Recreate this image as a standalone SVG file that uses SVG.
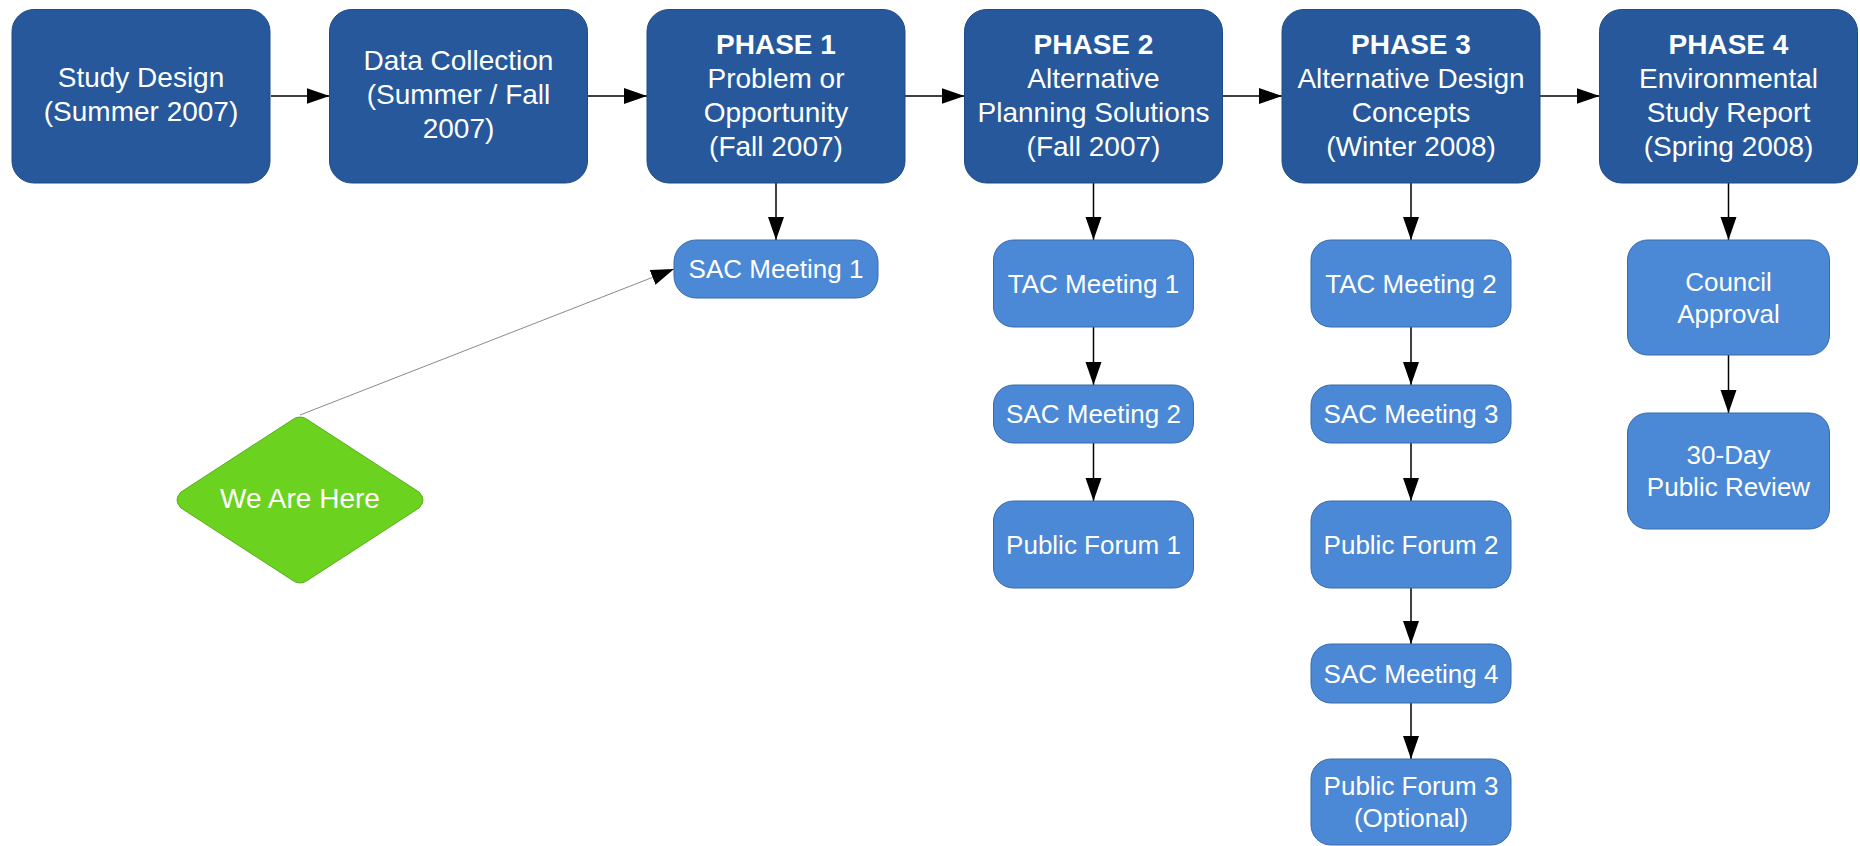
<svg xmlns="http://www.w3.org/2000/svg" width="1860" height="846" viewBox="0 0 1860 846">
<style>
.top{fill:#26589b;stroke:#1f4a85;stroke-width:1}
.sub{fill:#4b88d5;stroke:#3a6aa8;stroke-width:1}
.t{font-family:"Liberation Sans",Arial,sans-serif;fill:#fff;text-anchor:middle}
.tt{font-size:28px}
.st{font-size:26px}
.b{font-weight:bold}
.c{stroke:#000;stroke-width:1.5;fill:none;marker-end:url(#ah)}
.g{stroke:#8a8a8a;stroke-width:1;fill:none;marker-end:url(#ah)}
</style>
<defs>
<marker id="ah" markerUnits="userSpaceOnUse" markerWidth="24" markerHeight="18" refX="23" refY="8" orient="auto">
<path d="M0,0 L23,8 L0,16 z" fill="#000"/>
</marker>
</defs>
<rect width="1860" height="846" fill="#fff"/>
<g id="connectors">
<line class="c" x1="271" y1="96" x2="329.5" y2="96"/>
<line class="c" x1="588" y1="96" x2="647" y2="96"/>
<line class="c" x1="905" y1="96" x2="964.5" y2="96"/>
<line class="c" x1="1223" y1="96" x2="1282" y2="96"/>
<line class="c" x1="1540" y1="96" x2="1599.5" y2="96"/>
<line class="c" x1="776" y1="183" x2="776" y2="240"/>
<line class="c" x1="1093.5" y1="183" x2="1093.5" y2="240"/>
<line class="c" x1="1093.5" y1="327" x2="1093.5" y2="385"/>
<line class="c" x1="1093.5" y1="443" x2="1093.5" y2="501"/>
<line class="c" x1="1411" y1="183" x2="1411" y2="240"/>
<line class="c" x1="1411" y1="327" x2="1411" y2="385"/>
<line class="c" x1="1411" y1="443" x2="1411" y2="501"/>
<line class="c" x1="1411" y1="588" x2="1411" y2="644"/>
<line class="c" x1="1411" y1="703" x2="1411" y2="759"/>
<line class="c" x1="1728.5" y1="183" x2="1728.5" y2="240"/>
<line class="c" x1="1728.5" y1="355" x2="1728.5" y2="413"/>
<line class="g" x1="300" y1="415" x2="674" y2="269"/>
</g>
<g id="study-design">
<rect class="top" x="12" y="9.5" width="258" height="173.5" rx="22"/>
<text class="t tt" x="141" y="87">Study Design</text>
<text class="t tt" x="141" y="121">(Summer 2007)</text>
</g>
<g id="data-collection">
<rect class="top" x="329.5" y="9.5" width="258" height="173.5" rx="22"/>
<text class="t tt" x="458.5" y="70">Data Collection</text>
<text class="t tt" x="458.5" y="104">(Summer / Fall</text>
<text class="t tt" x="458.5" y="138">2007)</text>
</g>
<g id="phase1">
<rect class="top" x="647" y="9.5" width="258" height="173.5" rx="22"/>
<text class="t tt b" x="776" y="54">PHASE 1</text>
<text class="t tt" x="776" y="88">Problem or</text>
<text class="t tt" x="776" y="122">Opportunity</text>
<text class="t tt" x="776" y="156">(Fall 2007)</text>
</g>
<g id="phase2">
<rect class="top" x="964.5" y="9.5" width="258" height="173.5" rx="22"/>
<text class="t tt b" x="1093.5" y="54">PHASE 2</text>
<text class="t tt" x="1093.5" y="88">Alternative</text>
<text class="t tt" x="1093.5" y="122">Planning Solutions</text>
<text class="t tt" x="1093.5" y="156">(Fall 2007)</text>
</g>
<g id="phase3">
<rect class="top" x="1282" y="9.5" width="258" height="173.5" rx="22"/>
<text class="t tt b" x="1411" y="54">PHASE 3</text>
<text class="t tt" x="1411" y="88">Alternative Design</text>
<text class="t tt" x="1411" y="122">Concepts</text>
<text class="t tt" x="1411" y="156">(Winter 2008)</text>
</g>
<g id="phase4">
<rect class="top" x="1599.5" y="9.5" width="258" height="173.5" rx="22"/>
<text class="t tt b" x="1728.5" y="54">PHASE 4</text>
<text class="t tt" x="1728.5" y="88">Environmental</text>
<text class="t tt" x="1728.5" y="122">Study Report</text>
<text class="t tt" x="1728.5" y="156">(Spring 2008)</text>
</g>
<g id="sac1">
<rect class="sub" x="674" y="240" width="204" height="58" rx="22"/>
<text class="t st" x="776" y="278">SAC Meeting 1</text>
</g>
<g id="tac1">
<rect class="sub" x="993.5" y="240" width="200" height="87" rx="20"/>
<text class="t st" x="1093.5" y="292.5">TAC Meeting 1</text>
</g>
<g id="sac2">
<rect class="sub" x="993.5" y="385" width="200" height="58" rx="20"/>
<text class="t st" x="1093.5" y="423">SAC Meeting 2</text>
</g>
<g id="pf1">
<rect class="sub" x="993.5" y="501" width="200" height="87" rx="20"/>
<text class="t st" x="1093.5" y="553.5">Public Forum 1</text>
</g>
<g id="tac2">
<rect class="sub" x="1311" y="240" width="200" height="87" rx="20"/>
<text class="t st" x="1411" y="292.5">TAC Meeting 2</text>
</g>
<g id="sac3">
<rect class="sub" x="1311" y="385" width="200" height="58" rx="20"/>
<text class="t st" x="1411" y="423">SAC Meeting 3</text>
</g>
<g id="pf2">
<rect class="sub" x="1311" y="501" width="200" height="87" rx="20"/>
<text class="t st" x="1411" y="553.5">Public Forum 2</text>
</g>
<g id="sac4">
<rect class="sub" x="1311" y="644" width="200" height="59" rx="20"/>
<text class="t st" x="1411" y="682.5">SAC Meeting 4</text>
</g>
<g id="pf3">
<rect class="sub" x="1311" y="759" width="200" height="86" rx="20"/>
<text class="t st" x="1411" y="795">Public Forum 3</text>
<text class="t st" x="1411" y="827">(Optional)</text>
</g>
<g id="council">
<rect class="sub" x="1627.5" y="240" width="202" height="115" rx="20"/>
<text class="t st" x="1728.5" y="291">Council</text>
<text class="t st" x="1728.5" y="323">Approval</text>
</g>
<g id="review">
<rect class="sub" x="1627.5" y="413" width="202" height="116" rx="20"/>
<text class="t st" x="1728.5" y="464">30-Day</text>
<text class="t st" x="1728.5" y="496">Public Review</text>
</g>
<g id="we-are-here">
<path d="M292,420 Q300,414 308,420 L419,492 Q427,500 419,508 L308,580 Q300,586 292,580 L181,508 Q173,500 181,492 Z" fill="#6bd21f" stroke="#5aad1a" stroke-width="1"/>
<text class="t tt" x="300" y="508">We Are Here</text>
</g>
</svg>
